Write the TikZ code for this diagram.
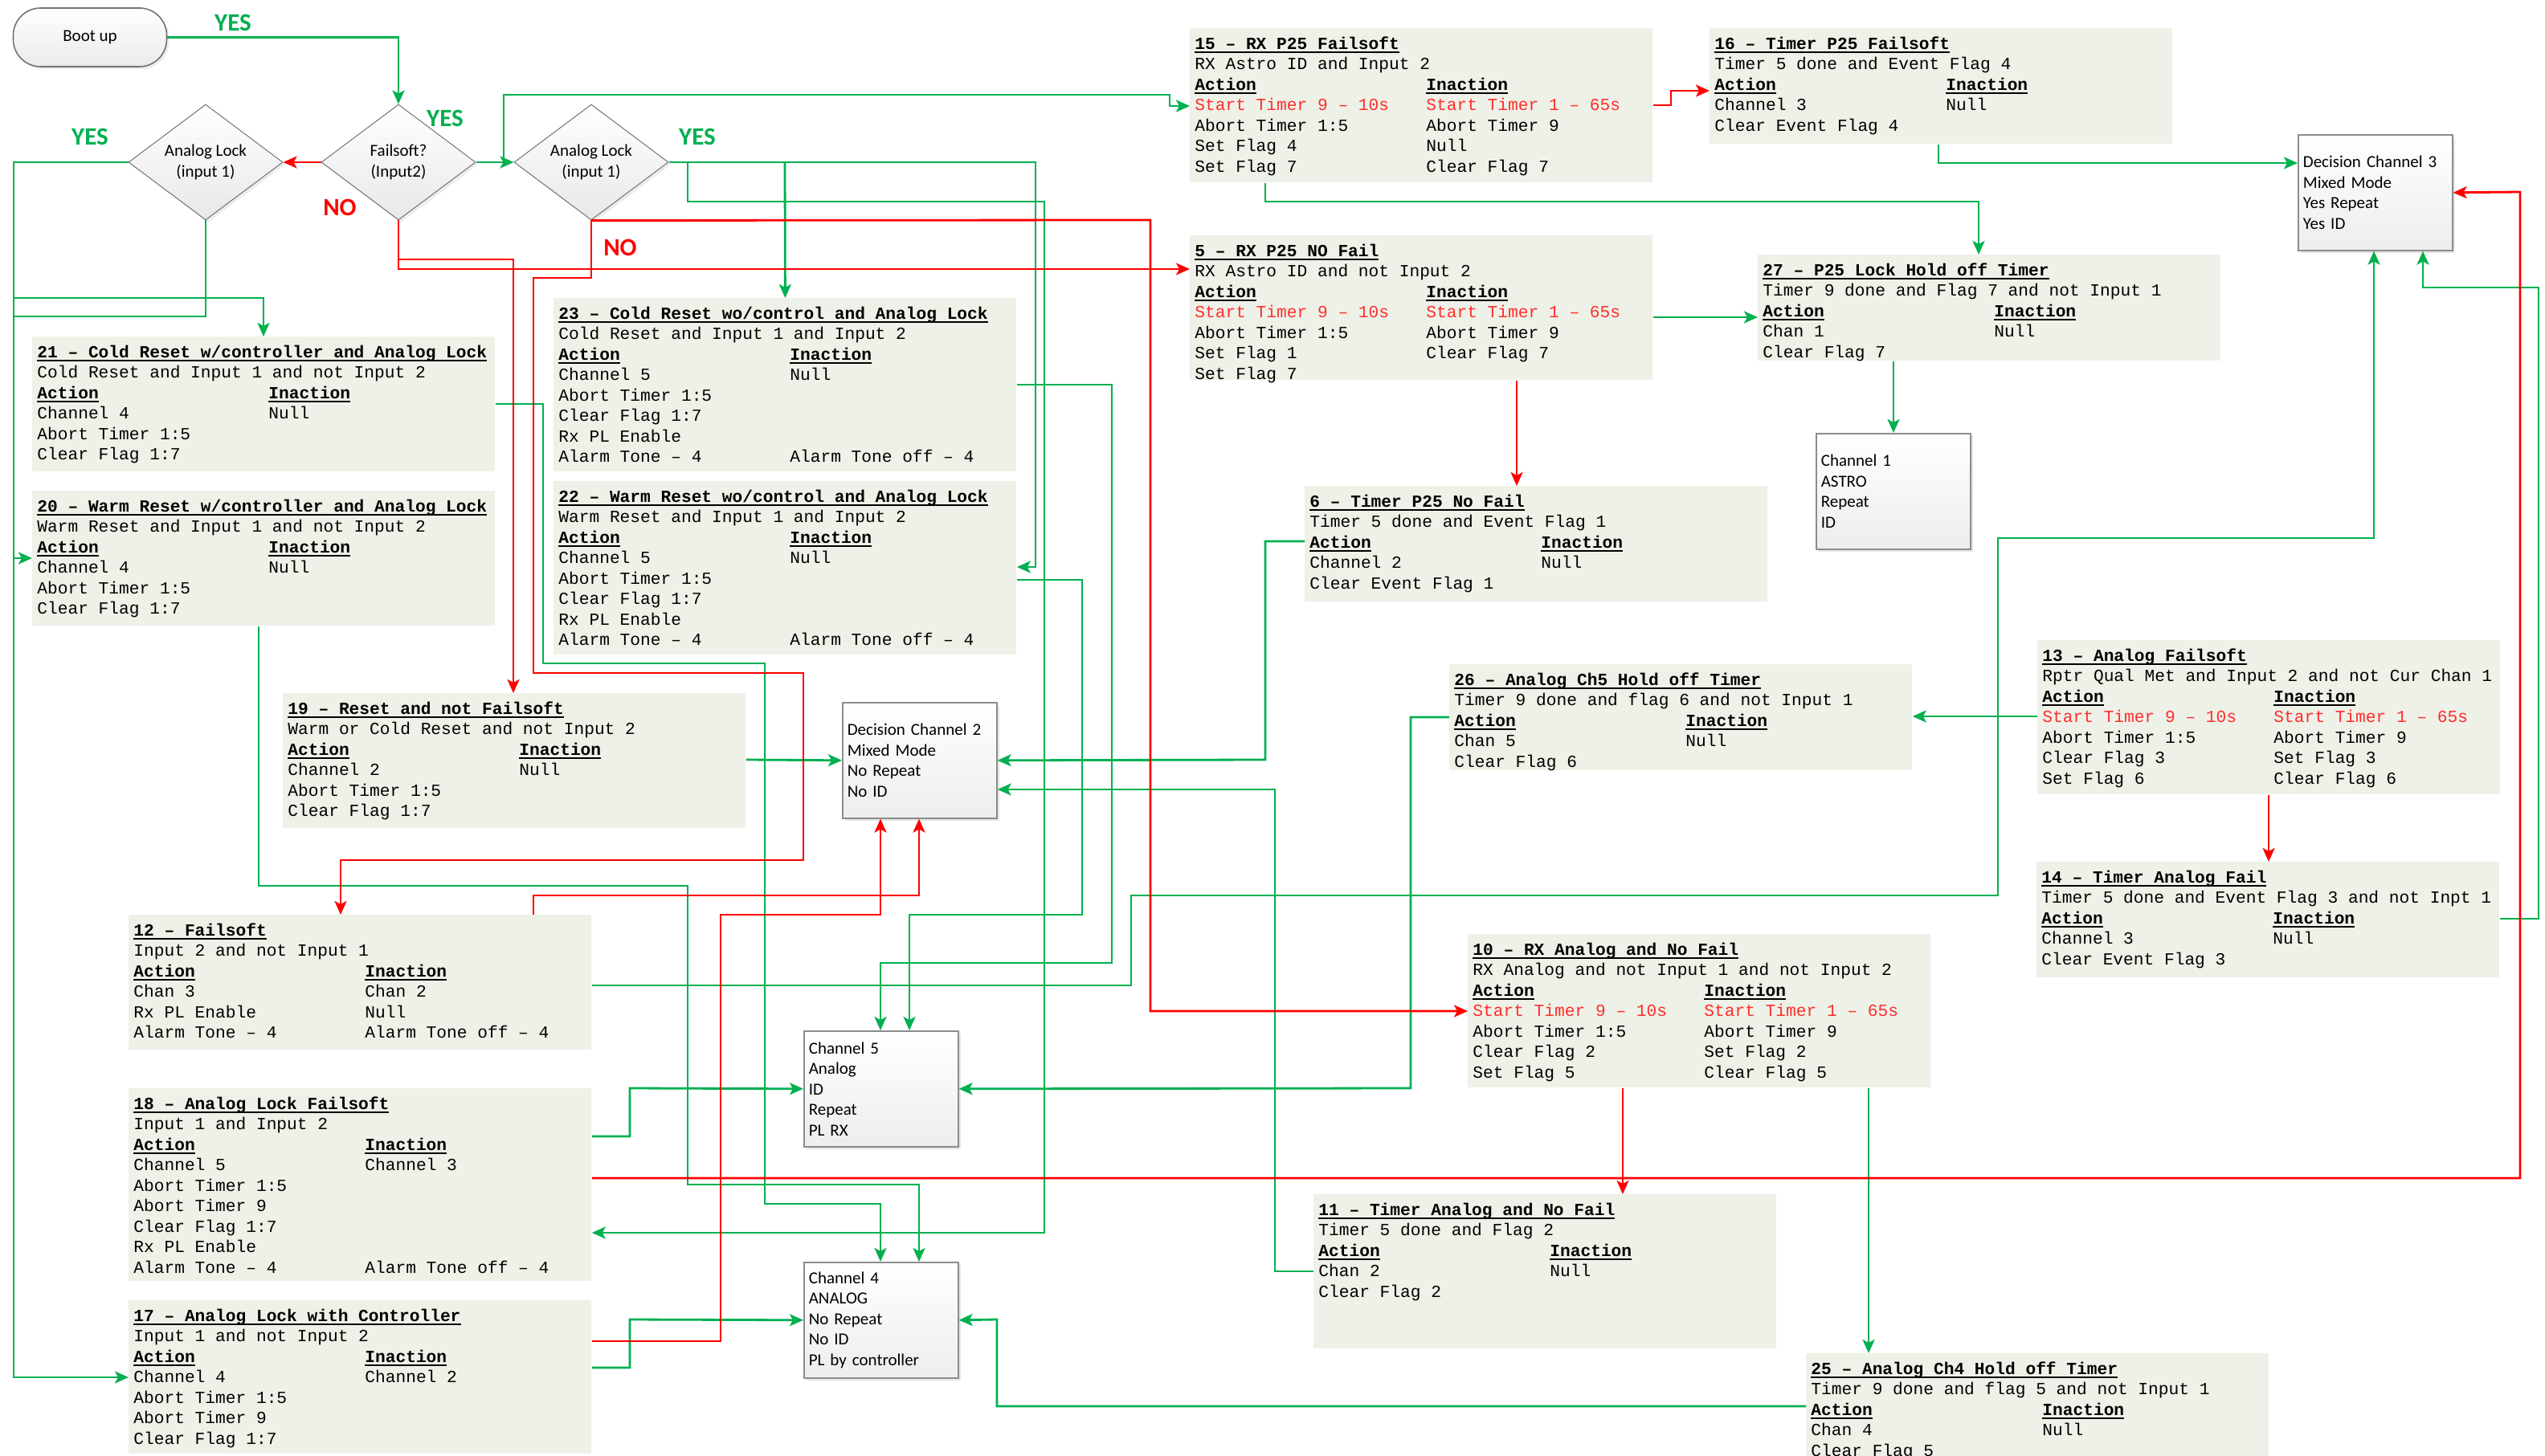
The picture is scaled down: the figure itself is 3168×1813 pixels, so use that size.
\documentclass[tikz,border=0pt]{standalone}
\usepackage{fontspec}
\setmainfont{Carlito}
\newfontfamily\boxfont{Liberation Mono}
\usetikzlibrary{arrows.meta,shapes.geometric,shadows}

\definecolor{boxfill}{RGB}{238,241,231}
\definecolor{lgreen}{RGB}{0,176,80}
\definecolor{lred}{RGB}{255,0,0}
\definecolor{tred}{RGB}{255,45,45}
\definecolor{tgray}{RGB}{70,70,70}
\definecolor{edge}{RGB}{140,140,140}

\newcommand{\ulin}[1]{\leavevmode\setbox0\hbox{#1}\rlap{\copy0}\rule[-2.4pt]{\wd0}{1pt}}
\newcommand{\ttl}[1]{\strut\ulin{\color{black}\bfseries #1}}
\newcommand{\two}[2]{\makebox[144pt][l]{#1}#2}
\newcommand{\hdr}{\two{\ulin{\color{black}\bfseries Action}}{\ulin{\color{black}\bfseries Inaction}}}
\newcommand{\starts}{\two{\textcolor{tred}{Start Timer 9 – 10s}}{\textcolor{tred}{Start Timer 1 – 65s}}}
\newcommand{\pcard}[5]{%
  \node[pbox, minimum height=#4*0.5pt] (#1) at (#2,#3) {};
  \node[ptext] (#1t) at (#1.north west) {#5};}

\tikzset{
  pbox/.style={fill=boxfill, inner sep=0pt, minimum width=288pt, anchor=north west},
  ptext/.style={anchor=north west, align=left, inner xsep=3pt, inner ysep=4pt,
    text=tgray, font=\boxfont\fontsize{10.6}{12.75}\selectfont},
  chbox/.style={draw=edge, line width=0.8pt, top color=white, bottom color=black!7,
    anchor=north west, minimum width=96pt, minimum height=72pt, text width=90pt,
    inner xsep=3pt, align=left, font=\fontsize{10.5}{12.75}\selectfont,
    drop shadow={shadow xshift=1.5pt, shadow yshift=-1.5pt, opacity=0.2}},
  decide/.style={diamond, aspect=1.33, minimum width=96pt, minimum height=72pt,
    inner sep=0pt, align=center, draw=black!55, line width=0.5pt,
    top color=white, bottom color=black!9, font=\fontsize{10.5}{12.75}\selectfont,
    drop shadow={shadow xshift=1.5pt, shadow yshift=-1.5pt, opacity=0.15}},
  startbox/.style={rectangle, rounded corners=17pt, minimum width=95.5pt,
    minimum height=36.5pt, draw=black!55, line width=0.8pt,
    top color=white, bottom color=black!8, font=\fontsize{10.5}{12.75}\selectfont,
    drop shadow={shadow xshift=1.5pt, shadow yshift=-1.5pt, opacity=0.15}},
  yes/.style={text=lgreen, font=\bfseries\fontsize{15.5}{18}\selectfont},
  no/.style={text=lred, font=\bfseries\fontsize{15.5}{18}\selectfont},
  gline/.style={color=lgreen, line width=1.4pt},
  rline/.style={color=lred, line width=1.4pt},
  arr/.style={-{Stealth[length=8.5pt, width=7.5pt, inset=2pt]}}
}

\begin{document}
\begin{tikzpicture}[x=0.5pt,y=-0.5pt]
\path[use as bounding box, fill=white] (0,0) rectangle (3168,1813);

\node[startbox] (boot) at (112,46.5) {Boot up};
\node[decide] (lockL) at (256,202) {Analog Lock\\(input 1)};
\node[decide] (fsoft) at (496,202) {Failsoft?\\(Input2)};
\node[decide] (lockR) at (736,202) {Analog Lock\\(input 1)};

\node[yes] (yes1) at (290,28) {YES};
\node[yes] (yes2) at (554,147) {YES};
\node[yes] (yes3) at (112,170) {YES};
\node[yes] (yes4) at (868,170) {YES};
\node[no] (no1) at (423,258) {NO};
\node[no] (no2) at (772,308) {NO};

\pcard{b15}{1481}{35}{192}{\ttl{15 – RX P25 Failsoft}\\ RX Astro ID and Input 2\\ \hdr\\ \starts\\
  \two{Abort Timer 1:5}{Abort Timer 9}\\ \two{Set Flag 4}{Null}\\ \two{Set Flag 7}{Clear Flag 7}}
\pcard{b16}{2128}{35}{144}{\ttl{16 – Timer P25 Failsoft}\\ Timer 5 done and Event Flag 4\\ \hdr\\
  \two{Channel 3}{Null}\\ Clear Event Flag 4}
\pcard{b5}{1481}{293}{180}{\ttl{5 – RX P25 NO Fail}\\ RX Astro ID and not Input 2\\ \hdr\\ \starts\\
  \two{Abort Timer 1:5}{Abort Timer 9}\\ \two{Set Flag 1}{Clear Flag 7}\\ Set Flag 7}
\pcard{b27}{2188}{317}{132}{\ttl{27 – P25 Lock Hold off Timer}\\ Timer 9 done and Flag 7 and not Input 1\\ \hdr\\
  \two{Chan 1}{Null}\\ Clear Flag 7}
\pcard{b6}{1624}{605}{144}{\ttl{6 – Timer P25 No Fail}\\ Timer 5 done and Event Flag 1\\ \hdr\\
  \two{Channel 2}{Null}\\ Clear Event Flag 1}
\pcard{b26}{1804}{827}{132}{\ttl{26 – Analog Ch5 Hold off Timer}\\ Timer 9 done and flag 6 and not Input 1\\ \hdr\\
  \two{Chan 5}{Null}\\ Clear Flag 6}
\pcard{b13}{2536}{797}{192}{\ttl{13 – Analog Failsoft}\\ Rptr Qual Met and Input 2 and not Cur Chan 1\\ \hdr\\ \starts\\
  \two{Abort Timer 1:5}{Abort Timer 9}\\ \two{Clear Flag 3}{Set Flag 3}\\ \two{Set Flag 6}{Clear Flag 6}}
\pcard{b14}{2535}{1073}{144}{\ttl{14 – Timer Analog Fail}\\ Timer 5 done and Event Flag 3 and not Inpt 1\\ \hdr\\
  \two{Channel 3}{Null}\\ Clear Event Flag 3}
\pcard{b10}{1827}{1163}{191}{\ttl{10 – RX Analog and No Fail}\\ RX Analog and not Input 1 and not Input 2\\ \hdr\\ \starts\\
  \two{Abort Timer 1:5}{Abort Timer 9}\\ \two{Clear Flag 2}{Set Flag 2}\\ \two{Set Flag 5}{Clear Flag 5}}
\pcard{b11}{1635}{1487}{192}{\ttl{11 – Timer Analog and No Fail}\\ Timer 5 done and Flag 2\\ \hdr\\
  \two{Chan 2}{Null}\\ Clear Flag 2}
\pcard{b25}{2248}{1685}{150}{\ttl{25 – Analog Ch4 Hold off Timer}\\ Timer 9 done and flag 5 and not Input 1\\ \hdr\\
  \two{Chan 4}{Null}\\ Clear Flag 5}
\pcard{b23}{689}{371}{216}{\ttl{23 – Cold Reset wo/control and Analog Lock}\\ Cold Reset and Input 1 and Input 2\\ \hdr\\
  \two{Channel 5}{Null}\\ Abort Timer 1:5\\ Clear Flag 1:7\\ Rx PL Enable\\ \two{Alarm Tone – 4}{Alarm Tone off – 4}}
\pcard{b22}{689}{599}{216}{\ttl{22 – Warm Reset wo/control and Analog Lock}\\ Warm Reset and Input 1 and Input 2\\ \hdr\\
  \two{Channel 5}{Null}\\ Abort Timer 1:5\\ Clear Flag 1:7\\ Rx PL Enable\\ \two{Alarm Tone – 4}{Alarm Tone off – 4}}
\pcard{b21}{40}{419}{168}{\ttl{21 – Cold Reset w/controller and Analog Lock}\\ Cold Reset and Input 1 and not Input 2\\ \hdr\\
  \two{Channel 4}{Null}\\ Abort Timer 1:5\\ Clear Flag 1:7}
\pcard{b20}{40}{611}{168}{\ttl{20 – Warm Reset w/controller and Analog Lock}\\ Warm Reset and Input 1 and not Input 2\\ \hdr\\
  \two{Channel 4}{Null}\\ Abort Timer 1:5\\ Clear Flag 1:7}
\pcard{b19}{352}{863}{168}{\ttl{19 – Reset and not Failsoft}\\ Warm or Cold Reset and not Input 2\\ \hdr\\
  \two{Channel 2}{Null}\\ Abort Timer 1:5\\ Clear Flag 1:7}
\pcard{b12}{160}{1139}{168}{\ttl{12 – Failsoft}\\ Input 2 and not Input 1\\ \hdr\\
  \two{Chan 3}{Chan 2}\\ \two{Rx PL Enable}{Null}\\ \two{Alarm Tone – 4}{Alarm Tone off – 4}}
\pcard{b18}{160}{1355}{240}{\ttl{18 – Analog Lock Failsoft}\\ Input 1 and Input 2\\ \hdr\\
  \two{Channel 5}{Channel 3}\\ Abort Timer 1:5\\ Abort Timer 9\\ Clear Flag 1:7\\ Rx PL Enable\\ \two{Alarm Tone – 4}{Alarm Tone off – 4}}
\pcard{b17}{160}{1619}{191}{\ttl{17 – Analog Lock with Controller}\\ Input 1 and not Input 2\\ \hdr\\
  \two{Channel 4}{Channel 2}\\ Abort Timer 1:5\\ Abort Timer 9\\ Clear Flag 1:7}

\node[chbox] (dc2) at (1048,874) {Decision Channel 2\\Mixed Mode\\No Repeat\\No ID};
\node[chbox] (dc3) at (2860,167) {Decision Channel 3\\Mixed Mode\\Yes Repeat\\Yes ID};
\node[chbox] (ch1) at (2260,539) {Channel 1\\ASTRO\\Repeat\\ID};
\node[chbox] (ch5) at (1000,1283) {Channel 5\\Analog\\ID\\Repeat\\PL RX};
\node[chbox] (ch4) at (1000,1571) {Channel 4\\ANALOG\\No Repeat\\No ID\\PL by controller};

\coordinate (jA) at (627,202);
\coordinate (jB) at (856,202);
\coordinate (jC) at (977,202);
\coordinate (jD) at (496,323);
\coordinate (jE) at (17,371);
\coordinate (jF) at (17,695);
\coordinate (jG) at (17,394);

\begin{scope}[gline,arr]
  \draw (boot.east) -| (fsoft.north);
  \draw (fsoft.east) -- (lockR.west);
  \draw (jA) -- (627,118) -- (1456,118) -- (1456,132) -- (b15.west |- 0,132);
  \draw (lockR.east) -- (1289,202) -- (1289,706) -- (b22.east |- 0,706);
  \draw (jB) -- (856,251) -- (1300,251) -- (1300,1535) -- (b18.east |- 0,1535);
  \draw (jC) -- (b23.north);
  \draw (lockL.west) -- (17,202) -- (17,1715) -- (b17.west |- 0,1715);
  \draw (jE) -- (328,371) -- (b21.north -| 328,0);
  \draw (jF) -- (b20.west |- 0,695);
  \draw (b21.east |- 0,503) -- (676,503) -- (676,826) -- (952,826) -- (952,1499) -- (1096,1499) -- (ch4.north -| 1096,0);
  \draw (b20.south -| 322,0) -- (322,1103) -- (856,1103) -- (856,1475) -- (1144,1475) -- (ch4.north -| 1144,0);
  \draw (b23.east |- 0,479) -- (1384,479) -- (1384,1199) -- (1096,1199) -- (ch5.north -| 1096,0);
  \draw (b22.east |- 0,722) -- (1347,722) -- (1347,1139) -- (1132,1139) -- (ch5.north -| 1132,0);
  \draw (b12.east |- 0,1227) -- (1408,1227) -- (1408,1115) -- (2487,1115) -- (2487,670) -- (2955,670) -- (dc3.south -| 2955,0);
  \draw (b17.east |- 0,1703) -- (784,1703) -- (784,1643) -- (ch4.west);
  \draw (b18.east |- 0,1415) -- (784,1415) -- (784,1355) -- (ch5.west);
  \draw (b10.south -| 2326,0) -- (b25.north -| 2326,0);
  \draw (b25.west |- 0,1751) -- (1241,1751) -- (1241,1643) -- (ch4.east);
  \draw (b11.west |- 0,1583) -- (1587,1583) -- (1587,983) -- (dc2.east |- 0,983);
  \draw (b6.west |- 0,674) -- (1575,674) -- (1575,946) -- (dc2.east);
  \draw (b19.east |- 0,946) -- (dc2.west);
  \draw (b26.west |- 0,893) -- (1756,893) -- (1756,1355) -- (ch5.east);
  \draw (b13.west |- 0,892) -- (b26.east |- 0,892);
  \draw (b14.east |- 0,1144) -- (3160,1144) -- (3160,358) -- (3016,358) -- (dc3.south -| 3016,0);
  \draw (b16.south -| 2413,0) -- (2413,203) -- (dc3.west |- 0,203);
  \draw (b15.south -| 1575,0) -- (1575,251) -- (2463,251) -- (b27.north -| 2463,0);
  \draw (b5.east |- 0,395) -- (b27.west |- 0,395);
  \draw (b27.south -| 2357,0) -- (ch1.north -| 2357,0);
  \draw[-] (lockL.south) -- (256,394) -- (jG);
\end{scope}

\begin{scope}[rline,arr]
  \draw (fsoft.west) -- (lockL.east);
  \draw (fsoft.south) -- (496,335) -- (b5.west |- 0,335);
  \draw (jD) -- (639,323) -- (b19.north -| 639,0);
  \draw (lockR.south) -- (736,346) -- (664,346) -- (664,838) -- (1000,838) -- (1000,1071) -- (424,1071) -- (b12.north -| 424,0);
  \draw (lockR.south) -- (1432,274) -- (1432,1259) -- (b10.west |- 0,1259);
  \draw (b12.north -| 664,0) -- (664,1115) -- (1144,1115) -- (dc2.south -| 1144,0);
  \draw (b17.east |- 0,1670) -- (897,1670) -- (897,1139) -- (1096,1139) -- (dc2.south -| 1096,0);
  \draw (b18.east |- 0,1467) -- (3137,1467) -- (3137,239) -- (dc3.east);
  \draw (b13.south -| 2824,0) -- (b14.north -| 2824,0);
  \draw (b15.east |- 0,131) -- (2080,131) -- (2080,113) -- (b16.west |- 0,113);
  \draw (b5.south -| 1888,0) -- (b6.north -| 1888,0);
  \draw (b10.south -| 2020,0) -- (b11.north -| 2020,0);
\end{scope}
\end{tikzpicture}
\end{document}
